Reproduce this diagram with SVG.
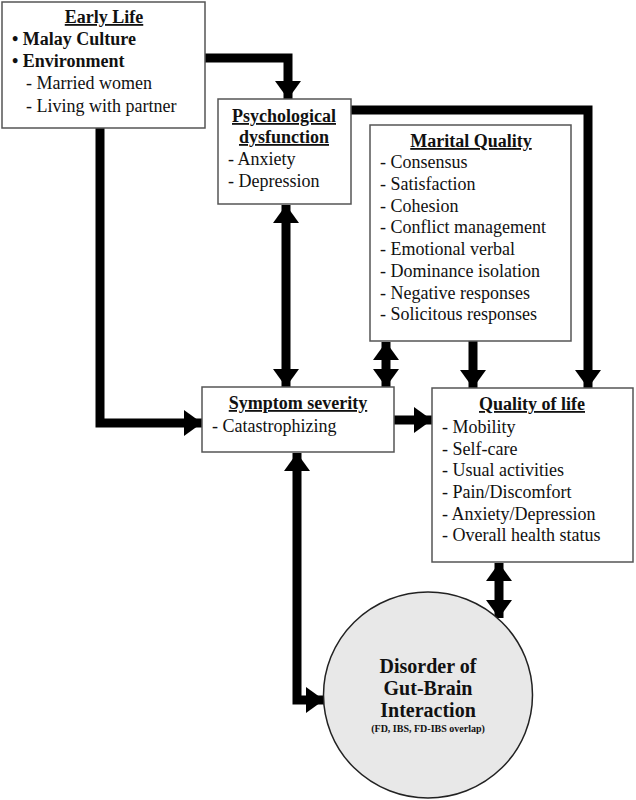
<svg xmlns="http://www.w3.org/2000/svg" width="636" height="800" viewBox="0 0 636 800">
<style>
.box{fill:#fff;stroke:#555;stroke-width:1.5}
text{font-family:"Liberation Serif","Times New Roman",serif;font-size:18px;fill:#111}
.t{font-weight:bold;text-decoration:underline;text-anchor:middle}
.b{font-weight:bold}
.m{font-weight:bold;text-anchor:middle;font-size:20px}
.c{stroke:#000;stroke-width:9;fill:none}
</style>
<defs>
<marker id="ah" markerUnits="userSpaceOnUse" viewBox="0 0 18 26" refX="18" refY="13" markerWidth="18" markerHeight="26" orient="auto-start-reverse">
<path d="M0,0 L18,13 L0,26 Z" fill="#000"/>
</marker>
</defs>
<rect width="636" height="800" fill="#fff"/>
<g id="connectors">
<path class="c" d="M205,58 H288 V99" marker-end="url(#ah)"/>
<path class="c" d="M351,110 H588 V388" marker-end="url(#ah)"/>
<path class="c" d="M100,128 V423 H202" marker-end="url(#ah)"/>
<path class="c" d="M286,205 V387" marker-start="url(#ah)" marker-end="url(#ah)"/>
<path class="c" d="M386,342 V387" marker-start="url(#ah)" marker-end="url(#ah)"/>
<path class="c" d="M473,341 V388" marker-end="url(#ah)"/>
<path class="c" d="M394,420 H432" marker-end="url(#ah)"/>
<path class="c" d="M297,453 V700 H324" marker-start="url(#ah)" marker-end="url(#ah)"/>
<path class="c" d="M499,563 V618" marker-start="url(#ah)" marker-end="url(#ah)"/>
</g>
<g id="early-life">
<rect class="box" x="2" y="2" width="203" height="126"/>
<text class="t" x="104" y="23">Early Life</text>
<text class="b" x="12" y="45">• Malay Culture</text>
<text class="b" x="12" y="67">• Environment</text>
<text x="26" y="89">- Married women</text>
<text x="26" y="112">- Living with partner</text>
</g>
<g id="psychological">
<rect class="box" x="218" y="99" width="133" height="105"/>
<text class="t" x="284" y="122">Psychological</text>
<text class="t" x="284" y="143">dysfunction</text>
<text x="228" y="165">- Anxiety</text>
<text x="228" y="187">- Depression</text>
</g>
<g id="marital">
<rect class="box" x="370" y="125" width="201" height="216"/>
<text class="t" x="471" y="147">Marital Quality</text>
<text x="380" y="168">- Consensus</text>
<text x="380" y="190">- Satisfaction</text>
<text x="380" y="212">- Cohesion</text>
<text x="380" y="233">- Conflict management</text>
<text x="380" y="255">- Emotional verbal</text>
<text x="380" y="277">- Dominance isolation</text>
<text x="380" y="299">- Negative responses</text>
<text x="380" y="320">- Solicitous responses</text>
</g>
<g id="symptom">
<rect class="box" x="202" y="387" width="192" height="65"/>
<text class="t" x="298" y="409">Symptom severity</text>
<text x="212" y="432">- Catastrophizing</text>
</g>
<g id="qol">
<rect class="box" x="432" y="388" width="201" height="174"/>
<text class="t" x="532" y="410">Quality of life</text>
<text x="442" y="433">- Mobility</text>
<text x="442" y="455">- Self-care</text>
<text x="442" y="476">- Usual activities</text>
<text x="442" y="498">- Pain/Discomfort</text>
<text x="442" y="520">- Anxiety/Depression</text>
<text x="442" y="541">- Overall health status</text>
</g>
<g id="dgbi">
<ellipse cx="428" cy="695" rx="104.5" ry="103" fill="#e8e8e8" stroke="#222" stroke-width="1.5"/>
<text class="m" x="428" y="673">Disorder of</text>
<text class="m" x="428" y="695">Gut-Brain</text>
<text class="m" x="428" y="717">Interaction</text>
<text x="428" y="732" style="font-size:10px;font-weight:bold;text-anchor:middle">(FD, IBS, FD-IBS overlap)</text>
</g>
</svg>
